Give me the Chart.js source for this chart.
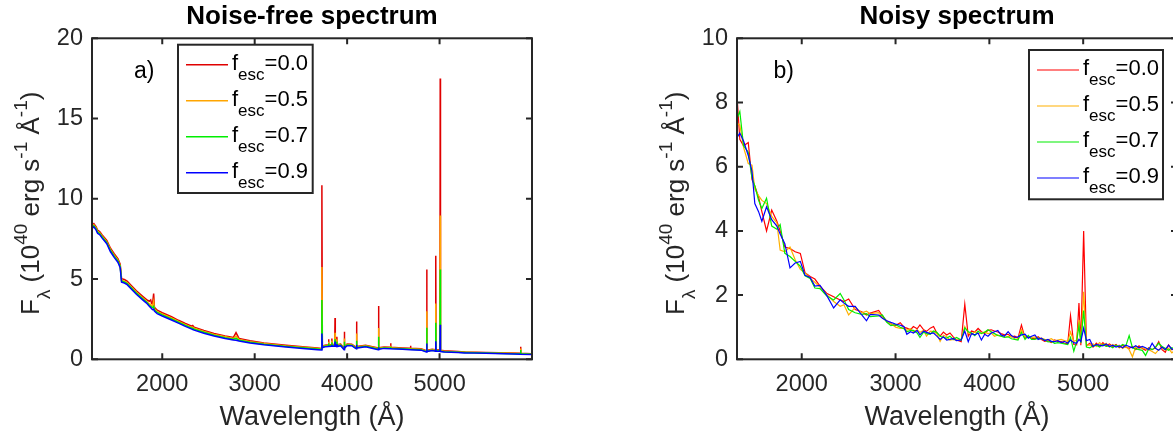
<!DOCTYPE html>
<html>
<head>
<meta charset="utf-8">
<script src="https://cdn.jsdelivr.net/npm/chart.js@4.4.0/dist/chart.umd.min.js"></script>
<style>
html, body { margin: 0; padding: 0; background: #fff; width: 1173px; height: 432px; overflow: hidden; }
canvas { position: absolute; top: 0; }
#noiseFree { left: 0; }
#noisy { left: 645px; }
</style>
</head>
<body>
<canvas id="noiseFree" width="560" height="432"></canvas>
<canvas id="noisy" width="560" height="432"></canvas>
<script>
// ---- data ----
const escFractions = ['0.0', '0.5', '0.7', '0.9'];
const xTicks = [2000, 3000, 4000, 5000];
const yTicksA = [0, 5, 10, 15, 20];
const yTicksB = [0, 2, 4, 6, 8, 10];

// panel a) noise-free model spectra
const wavelengthA = [
  1240, 1260, 1285, 1300, 1325, 1350, 1400, 1440, 1480, 1520,
  1545, 1560, 1590, 1620, 1670, 1720, 1785, 1830, 1860, 1875,
  1885, 1895, 1907, 1915, 1945, 2000, 2100, 2175, 2250, 2320,
  2330, 2345, 2450, 2560, 2680, 2770, 2798, 2830, 2950, 3100,
  3340, 3550, 3680, 3722, 3727, 3732, 3760, 3798, 3800, 3802,
  3833, 3835, 3837, 3866, 3869, 3872, 3885, 3889, 3893, 3930,
  3967, 3970, 3973, 4000, 4050, 4099, 4102, 4105, 4200, 4337,
  4340, 4343, 4400, 4468, 4471, 4474, 4600, 4683, 4686, 4689,
  4800, 4858, 4861, 4864, 4920, 4956, 4959, 4962, 5004, 5007,
  5010, 5050, 5200, 5268, 5270, 5272, 5500, 5800, 5872, 5876,
  5880, 5995
];
const fluxA00 = [
  8.35, 8.45, 8.25, 8.05, 7.95, 7.75, 7.4, 6.92, 6.58, 6.28,
  5.92, 5.02, 4.97, 4.87, 4.57, 4.27, 3.94, 3.72, 3.62, 3.7,
  3.48, 3.45, 4.1, 3.25, 3.06, 2.9, 2.65, 2.43, 2.23, 2.06,
  2.1, 2.0, 1.8, 1.61, 1.46, 1.36, 1.66, 1.3, 1.15, 1.02,
  0.87, 0.76, 0.7, 0.68, 10.85, 0.82, 0.88, 0.9, 1.25, 0.9,
  0.92, 1.3, 0.92, 0.92, 2.58, 0.92, 0.9, 1.4, 0.9, 0.95,
  0.7, 1.72, 0.8, 0.95, 0.94, 0.74, 2.35, 0.8, 0.87, 0.7,
  3.32, 0.72, 0.77, 0.75, 1.0, 0.75, 0.71, 0.69, 0.85, 0.69,
  0.66, 0.54, 5.6, 0.57, 0.63, 0.59, 6.45, 0.59, 0.59, 17.5,
  0.57, 0.53, 0.48, 0.46, 0.5, 0.46, 0.43, 0.39, 0.38, 0.78,
  0.38, 0.34
];
const fluxA05 = [
  8.27, 8.37, 8.17, 7.97, 7.87, 7.67, 7.32, 6.83, 6.48, 6.18,
  5.83, 4.92, 4.87, 4.77, 4.47, 4.17, 3.84, 3.62, 3.45, 3.4,
  3.35, 3.32, 3.6, 3.14, 2.97, 2.82, 2.57, 2.36, 2.16, 1.99,
  1.99, 1.93, 1.73, 1.55, 1.4, 1.3, 1.45, 1.24, 1.1, 0.98,
  0.83, 0.73, 0.67, 0.65, 5.75, 0.79, 0.85, 0.87, 1.1, 0.87,
  0.89, 1.15, 0.89, 0.89, 1.65, 0.89, 0.87, 1.25, 0.87, 0.92,
  0.67, 1.3, 0.77, 0.92, 0.91, 0.71, 1.6, 0.77, 0.84, 0.67,
  1.95, 0.69, 0.74, 0.72, 0.85, 0.72, 0.68, 0.66, 0.72, 0.66,
  0.63, 0.51, 3.0, 0.54, 0.6, 0.56, 3.48, 0.56, 0.56, 8.96,
  0.54, 0.5, 0.46, 0.44, 0.47, 0.44, 0.41, 0.37, 0.36, 0.68,
  0.36, 0.32
];
const fluxA07 = [
  8.22, 8.32, 8.12, 7.92, 7.82, 7.62, 7.27, 6.78, 6.43, 6.13,
  5.78, 4.87, 4.82, 4.72, 4.42, 4.12, 3.79, 3.57, 3.37, 3.3,
  3.25, 3.22, 3.3, 3.08, 2.92, 2.77, 2.52, 2.31, 2.11, 1.94,
  1.93, 1.88, 1.68, 1.5, 1.35, 1.25, 1.3, 1.19, 1.06, 0.94,
  0.8, 0.7, 0.64, 0.62, 3.7, 0.76, 0.82, 0.84, 1.0, 0.84,
  0.86, 1.05, 0.86, 0.86, 1.25, 0.86, 0.84, 1.1, 0.84, 0.89,
  0.64, 1.1, 0.74, 0.89, 0.88, 0.68, 1.15, 0.74, 0.81, 0.64,
  1.4, 0.66, 0.71, 0.69, 0.78, 0.69, 0.65, 0.63, 0.66, 0.63,
  0.6, 0.48, 1.97, 0.51, 0.57, 0.53, 2.28, 0.53, 0.53, 5.6,
  0.51, 0.47, 0.44, 0.42, 0.44, 0.42, 0.39, 0.35, 0.34, 0.58,
  0.34, 0.31
];
const fluxA09 = [
  8.15, 8.25, 8.05, 7.85, 7.75, 7.55, 7.2, 6.7, 6.35, 6.05,
  5.7, 4.8, 4.75, 4.65, 4.35, 4.05, 3.72, 3.5, 3.3, 3.22,
  3.15, 3.1, 3.12, 3.0, 2.85, 2.7, 2.45, 2.25, 2.05, 1.88,
  1.86, 1.82, 1.62, 1.45, 1.3, 1.2, 1.18, 1.14, 1.02, 0.9,
  0.76, 0.66, 0.6, 0.58, 1.6, 0.72, 0.78, 0.8, 0.86, 0.8,
  0.82, 0.9, 0.82, 0.82, 1.1, 0.82, 0.8, 0.95, 0.8, 0.85,
  0.6, 0.85, 0.7, 0.85, 0.85, 0.65, 0.9, 0.7, 0.78, 0.6,
  0.75, 0.62, 0.68, 0.66, 0.7, 0.66, 0.62, 0.6, 0.61, 0.6,
  0.57, 0.45, 0.98, 0.48, 0.54, 0.5, 1.12, 0.5, 0.5, 2.15,
  0.48, 0.45, 0.42, 0.4, 0.41, 0.4, 0.37, 0.33, 0.32, 0.36,
  0.32, 0.3
];

// panel b) noisy spectra
const wavelengthB = [
  1310, 1340, 1380, 1430, 1470, 1500, 1540, 1575, 1625, 1680,
  1735, 1770, 1820, 1875, 1930, 1985, 2035, 2090, 2140, 2195,
  2265, 2340, 2410, 2450, 2500, 2570, 2640, 2690, 2730, 2820,
  2860, 2905, 2950, 3000, 3050, 3090, 3120, 3160, 3190, 3230,
  3260, 3300, 3330, 3370, 3405, 3440, 3475, 3510, 3545, 3580,
  3615, 3650, 3700, 3738, 3775, 3810, 3845, 3880, 3915, 3950,
  3985, 4020, 4055, 4090, 4125, 4160, 4200, 4235, 4270, 4305,
  4342, 4380, 4415, 4450, 4485, 4520, 4555, 4590, 4625, 4660,
  4695, 4730, 4765, 4800, 4835, 4865, 4900, 4930, 4955, 4975,
  5005, 5035, 5070, 5105, 5140, 5175, 5210, 5245, 5280, 5315,
  5350, 5385, 5420, 5455, 5490, 5525, 5560, 5595, 5630, 5665,
  5700, 5735, 5770, 5805, 5840, 5875, 5910, 5945, 5990
];
const fluxB00 = [
  8.2, 6.85, 6.65, 6.75, 5.6, 5.4, 5.05, 4.6, 4.0, 4.65,
  4.3, 4.0, 3.5, 3.45, 3.35, 3.3, 2.7, 2.58, 2.5, 2.28,
  2.06, 1.95, 1.85, 1.8, 1.88, 1.55, 1.48, 1.38, 1.44, 1.52,
  1.35, 1.2, 1.1, 1.05, 1.14, 1.0, 0.97, 0.92, 1.02, 0.95,
  1.07, 0.92, 0.87, 0.97, 1.02, 0.82, 0.72, 0.85, 0.76, 0.82,
  0.7, 0.6, 0.55, 1.72, 0.72, 0.88, 0.85, 0.96, 0.86, 0.8,
  0.9, 0.92, 0.88, 0.85, 0.8, 0.76, 0.78, 0.7, 0.72, 0.66,
  1.07, 0.66, 0.72, 0.66, 0.64, 0.7, 0.62, 0.56, 0.58, 0.52,
  0.6, 0.56, 0.55, 0.5, 0.48, 1.36, 0.46, 0.45, 1.75, 0.44,
  4.0, 0.42, 0.5, 0.38, 0.5, 0.4, 0.52, 0.42, 0.48, 0.4,
  0.46, 0.36, 0.44, 0.38, 0.34, 0.4, 0.3, 0.42, 0.34, 0.28,
  0.36, 0.3, 0.36, 0.55, 0.3, 0.22, 0.45, 0.3, 0.38
];
const fluxB05 = [
  7.35, 7.3, 6.6, 6.1, 6.05, 5.3, 5.1, 4.95, 4.85, 4.45,
  4.25, 3.4, 3.35, 3.5, 3.1, 2.8, 2.7, 2.52, 2.4, 2.25,
  2.02, 1.8, 1.65, 1.7, 1.38, 1.62, 1.45, 1.5, 1.42, 1.45,
  1.3, 1.18, 1.12, 1.0, 0.96, 0.98, 0.9, 0.95, 0.86, 0.92,
  0.84, 0.9, 0.72, 0.88, 0.86, 0.8, 0.56, 0.75, 0.7, 0.6,
  0.62, 0.6, 0.62, 1.02, 0.82, 0.78, 0.86, 0.8, 0.82, 0.85,
  0.8, 0.82, 0.72, 0.76, 0.72, 0.74, 0.7, 0.72, 0.64, 0.62,
  0.92, 0.7, 0.7, 0.68, 0.7, 0.64, 0.66, 0.62, 0.6, 0.64,
  0.58, 0.6, 0.62, 0.58, 0.56, 0.85, 0.56, 0.6, 1.22, 0.5,
  2.1, 0.45, 0.44, 0.48, 0.4, 0.52, 0.44, 0.5, 0.38, 0.46,
  0.4, 0.44, 0.34, 0.4, 0.3, 0.08, 0.4, 0.34, 0.36, 0.32,
  0.3, 0.24, 0.18, 0.3, 0.36, 0.28, 0.34, 0.2, 0.32
];
const fluxB07 = [
  7.5, 7.72, 6.65, 6.45, 5.65, 5.4, 4.95, 4.7, 5.02, 4.15,
  4.05, 4.2, 3.3, 3.2, 3.05, 2.9, 2.6, 2.52, 2.22, 2.2,
  1.98, 1.85, 2.05, 1.85, 1.55, 1.45, 1.4, 1.42, 1.33, 1.35,
  1.38, 1.16, 1.05, 1.08, 1.0, 0.95, 0.86, 0.9, 0.9, 0.82,
  0.68, 0.85, 0.8, 0.78, 0.88, 0.84, 0.72, 0.68, 0.66, 0.72,
  0.62, 0.68, 0.6, 0.98, 0.86, 0.82, 0.74, 0.88, 0.8, 0.84,
  0.92, 0.86, 0.8, 0.74, 0.72, 0.68, 0.7, 0.64, 0.62, 0.6,
  0.84, 0.62, 0.74, 0.62, 0.62, 0.66, 0.64, 0.6, 0.54, 0.56,
  0.5, 0.52, 0.5, 0.48, 0.46, 0.68, 0.25, 0.55, 1.05, 0.52,
  1.52, 0.38, 0.36, 0.42, 0.44, 0.38, 0.46, 0.4, 0.42, 0.36,
  0.44, 0.38, 0.46, 0.42, 0.74, 0.36, 0.32, 0.3, 0.28, 0.12,
  0.34, 0.3, 0.38, 0.5, 0.4, 0.34, 0.28, 0.36, 0.3
];
const fluxB09 = [
  6.9, 7.05, 6.8, 6.35, 5.85, 4.85, 4.6, 4.3, 4.75, 4.35,
  4.15, 3.9, 3.6, 2.85, 3.0, 3.05, 2.62, 2.55, 2.28, 2.3,
  2.0, 1.6, 1.85, 1.75, 1.65, 1.65, 1.38, 1.2, 1.4, 1.38,
  1.28, 1.2, 1.15, 1.1, 1.06, 1.02, 0.78, 0.86, 0.82, 0.9,
  0.76, 0.88, 0.84, 0.8, 0.82, 0.72, 0.62, 0.7, 0.6, 0.62,
  0.65, 0.58, 0.6, 0.88, 0.55, 0.8, 0.76, 0.82, 0.6, 0.78,
  0.72, 0.82, 0.86, 0.9, 0.76, 0.72, 0.86, 0.74, 0.68, 0.7,
  0.76, 0.78, 0.66, 0.72, 0.76, 0.62, 0.66, 0.58, 0.62, 0.56,
  0.55, 0.58, 0.52, 0.56, 0.5, 0.6, 0.52, 0.5, 0.62, 0.55,
  0.97, 0.58, 0.62, 0.4, 0.46, 0.44, 0.42, 0.48, 0.4, 0.44,
  0.38, 0.42, 0.36, 0.44, 0.4, 0.36, 0.42, 0.36, 0.4, 0.36,
  0.3, 0.5, 0.34, 0.28, 0.38, 0.3, 0.44, 0.32, 0.26
];

// ---- drawing ----
const FONT = '"Liberation Sans", Arial, Helvetica, sans-serif';
const AXIS_COLOR = '#262626';

// draw a run of text pieces with tex-like sub/superscripts
function drawScripted(ctx, x, y, parts, size, smallSize, subDrop, supRise) {
  parts.forEach(p => {
    const s = (p.sub || p.sup) ? smallSize : size;
    ctx.font = s + 'px ' + FONT;
    let yy = y;
    if (p.sub) yy += subDrop;
    if (p.sup) yy -= supRise;
    ctx.fillText(p.t, x, yy);
    x += ctx.measureText(p.t).width;
  });
}

const matlabFrame = {
  id: 'matlabFrame',
  afterDraw(chart, args, opts) {
    const ctx = chart.ctx;
    const a = chart.chartArea;
    const xs = chart.scales.x, ys = chart.scales.y;
    ctx.save();

    // box and inward ticks on all four sides
    ctx.strokeStyle = AXIS_COLOR;
    ctx.lineWidth = 2;
    ctx.strokeRect(a.left, a.top, a.right - a.left, a.bottom - a.top);
    const tl = 6;
    ctx.beginPath();
    xs.ticks.forEach(t => {
      const px = xs.getPixelForValue(t.value);
      ctx.moveTo(px, a.bottom); ctx.lineTo(px, a.bottom - tl);
      ctx.moveTo(px, a.top); ctx.lineTo(px, a.top + tl);
    });
    ys.ticks.forEach(t => {
      const py = ys.getPixelForValue(t.value);
      ctx.moveTo(a.left, py); ctx.lineTo(a.left + tl, py);
      ctx.moveTo(a.right, py); ctx.lineTo(a.right - tl, py);
    });
    ctx.stroke();

    // y axis label
    ctx.fillStyle = AXIS_COLOR;
    ctx.textAlign = 'left';
    ctx.textBaseline = 'alphabetic';
    ctx.save();
    ctx.translate(39, 315);
    ctx.rotate(-Math.PI / 2);
    drawScripted(ctx, 0, 0, [
      {t: 'F'}, {t: 'λ', sub: true}, {t: ' (10'}, {t: '40', sup: true},
      {t: ' erg s'}, {t: '-1', sup: true}, {t: ' Å'}, {t: '-1', sup: true}, {t: ')'}
    ], 26, 19, 11, 12);
    ctx.restore();

    // panel label
    ctx.fillStyle = '#000';
    ctx.font = '23px ' + FONT;
    ctx.fillText(opts.panel, a.left + opts.panelDx, a.top + 40);

    // legend
    const lg = opts.legend;
    const bx = a.left + lg.dx, by = a.top + lg.dy;
    ctx.fillStyle = '#fff';
    ctx.fillRect(bx, by, lg.w, lg.h);
    ctx.strokeStyle = AXIS_COLOR;
    ctx.lineWidth = 2;
    ctx.strokeRect(bx, by, lg.w, lg.h);
    chart.data.datasets.forEach((ds, i) => {
      const cy = by + 20 + 36 * i;
      ctx.strokeStyle = ds.borderColor;
      ctx.lineWidth = ds.borderWidth;
      ctx.beginPath();
      ctx.moveTo(bx + 8, cy);
      ctx.lineTo(bx + 50, cy);
      ctx.stroke();
      ctx.fillStyle = '#000';
      drawScripted(ctx, bx + 54, cy + 5, [
        {t: 'f'}, {t: 'esc', sub: true}, {t: '=' + escFractions[i]}
      ], 22, 17, 10, 0);
    });
    ctx.restore();
  }
};

function toPoints(xs, ys) {
  return xs.map((x, i) => ({x: x, y: ys[i]}));
}

function makeChart(id, cfg) {
  const colors = cfg.colors;
  const datasets = cfg.series.map((s, i) => ({
    label: 'f_esc=' + escFractions[i],
    data: toPoints(cfg.wavelength, s),
    borderColor: colors[i],
    borderWidth: cfg.lineWidth,
    pointRadius: 0,
    tension: 0,
    fill: false,
    order: 4 - i
  }));
  return new Chart(document.getElementById(id), {
    type: 'line',
    data: {datasets: datasets},
    plugins: [matlabFrame],
    options: {
      responsive: false,
      animation: false,
      events: [],
      layout: {padding: {left: 0, right: 28, top: 0, bottom: 0}},
      scales: {
        x: {
          type: 'linear',
          min: cfg.xMin,
          max: 6000,
          afterBuildTicks: s => { s.ticks = xTicks.map(v => ({value: v})); },
          afterFit: s => { s.height = 72.7; },
          grid: {display: false, drawTicks: false},
          border: {display: false},
          ticks: {
            padding: 11,
            maxRotation: 0,
            autoSkip: false,
            color: AXIS_COLOR,
            font: {family: FONT, size: 23.5},
            callback: v => String(v)
          },
          title: {
            display: true,
            text: 'Wavelength (Å)',
            color: AXIS_COLOR,
            font: {family: FONT, size: 27},
            padding: {top: 0, bottom: -2}
          }
        },
        y: {
          type: 'linear',
          min: 0,
          max: cfg.yMax,
          afterBuildTicks: s => { s.ticks = cfg.yTicks.map(v => ({value: v})); },
          afterFit: s => { s.width = 92; },
          grid: {display: false, drawTicks: false},
          border: {display: false},
          ticks: {
            padding: 9,
            color: AXIS_COLOR,
            font: {family: FONT, size: 23.5},
            callback: v => String(v)
          }
        }
      },
      plugins: {
        legend: {display: false},
        tooltip: {enabled: false},
        title: {
          display: true,
          text: cfg.title,
          fullSize: false,
          color: '#000',
          font: {family: FONT, size: 26, weight: 'bold'},
          padding: {top: 1, bottom: 6.1}
        },
        matlabFrame: {
          panel: cfg.panel,
          panelDx: cfg.panelDx,
          legend: cfg.legend
        }
      }
    }
  });
}

makeChart('noiseFree', {
  title: 'Noise-free spectrum',
  panel: 'a)',
  panelDx: 42,
  wavelength: wavelengthA,
  series: [fluxA00, fluxA05, fluxA07, fluxA09],
  colors: ['#e00000', '#ffa500', '#00ee00', '#0000ff'],
  lineWidth: 1.5,
  xMin: 1240,
  yMax: 20,
  yTicks: yTicksA,
  legend: {dx: 86, dy: 6.4, w: 134.7, h: 148.3}
});

makeChart('noisy', {
  title: 'Noisy spectrum',
  panel: 'b)',
  panelDx: 36.4,
  wavelength: wavelengthB,
  series: [fluxB00, fluxB05, fluxB07, fluxB09],
  colors: ['#ff0000', '#ffb000', '#00ee00', '#0000ff'],
  lineWidth: 1.2,
  xMin: 1310,
  yMax: 10,
  yTicks: yTicksB,
  legend: {dx: 292, dy: 11.7, w: 134, h: 149.3}
});
</script>
</body>
</html>
